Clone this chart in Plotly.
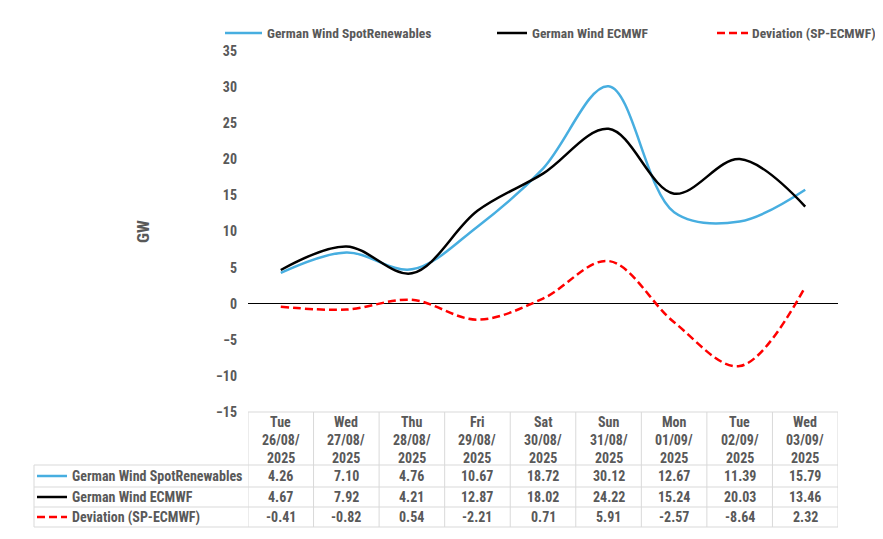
import plotly.graph_objects as go

# ---- data ----
days = ["Tue", "Wed", "Thu", "Fri", "Sat", "Sun", "Mon", "Tue", "Wed"]
dates = ["26/08/", "27/08/", "28/08/", "29/08/", "30/08/", "31/08/", "01/09/", "02/09/", "03/09/"]
years = ["2025"] * 9
spot = [4.26, 7.10, 4.76, 10.67, 18.72, 30.12, 12.67, 11.39, 15.79]
ecmwf = [4.67, 7.92, 4.21, 12.87, 18.02, 24.22, 15.24, 20.03, 13.46]
dev = [-0.41, -0.82, 0.54, -2.21, 0.71, 5.91, -2.57, -8.64, 2.32]
series_names = ["German Wind SpotRenewables", "German Wind ECMWF", "Deviation (SP-ECMWF)"]
y_ticks = [-15, -10, -5, 0, 5, 10, 15, 20, 25, 30, 35]
y_title = "GW"

# figure placement in the page (body margin 8px)
OX, OY, WF, HF = 8, 8, 867, 523
FONT = "Liberation Sans Narrow, Arial Narrow, Roboto Condensed, Liberation Sans, sans-serif"
GREY = "#595959"
GRID = "#D9D9D9"
colors = ["#47AEE0", "#000000", "#FF0000"]
dashes = ["solid", "solid", "8px,4px"]
values = [spot, ecmwf, dev]

def px_x(p):
    return (p - OX) / WF

def px_y(p):
    return 1 - (p - OY) / HF

x_left, x_right = 248, 838
y_top, y_bot = 51, 412

xs = list(range(len(days)))

fig = go.Figure()
for name, vals, col, dsh in zip(series_names, values, colors, dashes):
    fig.add_trace(go.Scatter(
        x=xs, y=vals, mode="lines", name=name,
        line=dict(color=col, width=2.5, dash=dsh, shape="spline", smoothing=1.0),
        hoverinfo="skip", showlegend=False,
    ))

FS = 14
fig.update_layout(
    width=WF, height=HF,
    margin=dict(l=0, r=0, t=0, b=0),
    paper_bgcolor="white", plot_bgcolor="white",
    showlegend=False,
    xaxis=dict(
        domain=[px_x(x_left), px_x(x_right)],
        range=[-0.5, len(days) - 0.5],
        showticklabels=False, showgrid=False, zeroline=False, showline=False,
        automargin=False, fixedrange=True,
    ),
    yaxis=dict(
        domain=[px_y(y_bot), px_y(y_top)],
        range=[-15, 35],
        tickvals=y_ticks,
        tickfont=dict(family=FONT, size=FS, color=GREY, weight="bold"),
        showgrid=False, showline=False,
        zeroline=True, zerolinecolor="black", zerolinewidth=1,
        ticks="", ticklabelstandoff=10,
        automargin=False, fixedrange=True,
    ),
)

shapes = []
annotations = []
cell_font = dict(family=FONT, size=FS, color=GREY, weight="bold")
legend_font = dict(family=FONT, size=13.5, color=GREY, weight="bold")

# legend (top)
leg_line = [(225, 262), (497, 527), (717, 748)]
leg_text_x = [265, 530, 750]
for name, col, dsh, (l0, l1), tx in zip(series_names, colors, dashes, leg_line, leg_text_x):
    shapes.append(dict(type="line", xref="paper", yref="paper",
                       x0=px_x(l0), x1=px_x(l1), y0=px_y(33), y1=px_y(33),
                       line=dict(color=col, width=2.5, dash=dsh)))
    annotations.append(dict(x=px_x(tx), y=px_y(33), xref="paper", yref="paper", text=name,
                            showarrow=False, font=legend_font, xanchor="left", yanchor="middle"))

annotations.append(dict(x=px_x(143), y=px_y(232), xref="paper", yref="paper", text=y_title,
                        textangle=-90, showarrow=False,
                        font=dict(family=FONT, size=17, color=GREY, weight="bold"),
                        xanchor="center", yanchor="middle"))

# table grid
row_y = [465, 487, 507, 527]
shapes.append(dict(type="line", xref="paper", yref="paper",
                   x0=px_x(x_left), x1=px_x(x_right), y0=px_y(412), y1=px_y(412),
                   line=dict(color=GRID, width=1)))
for ry in row_y:
    shapes.append(dict(type="line", xref="paper", yref="paper",
                       x0=px_x(34), x1=px_x(x_right), y0=px_y(ry), y1=px_y(ry),
                       line=dict(color=GRID, width=1)))
shapes.append(dict(type="line", xref="paper", yref="paper",
                   x0=px_x(34), x1=px_x(34), y0=px_y(465), y1=px_y(527),
                   line=dict(color=GRID, width=1)))
for k in range(len(days) + 1):
    shapes.append(dict(type="line", xref="x", yref="paper",
                       x0=k - 0.5, x1=k - 0.5, y0=px_y(412), y1=px_y(527),
                       line=dict(color=GRID, width=1)))

# header text
for i in xs:
    for txt, py in zip([days[i], dates[i], years[i]], [422, 440, 458]):
        annotations.append(dict(x=i, y=px_y(py), xref="x", yref="paper", text=txt,
                                showarrow=False, font=cell_font,
                                xanchor="center", yanchor="middle"))

# rows
row_centers = [476, 497, 517]
for name, vals, col, dsh, ry in zip(series_names, values, colors, dashes, row_centers):
    shapes.append(dict(type="line", xref="paper", yref="paper",
                       x0=px_x(37), x1=px_x(67), y0=px_y(ry), y1=px_y(ry),
                       line=dict(color=col, width=2.5, dash=dsh)))
    annotations.append(dict(x=px_x(70), y=px_y(ry), xref="paper", yref="paper", text=name,
                            showarrow=False, font=cell_font, xanchor="left", yanchor="middle"))
    for i, v in zip(xs, vals):
        annotations.append(dict(x=i, y=px_y(ry), xref="x", yref="paper", text=f"{v:.2f}",
                                showarrow=False, font=cell_font,
                                xanchor="center", yanchor="middle"))

fig.update_layout(shapes=shapes, annotations=annotations)
fig.write_html("out.html")
